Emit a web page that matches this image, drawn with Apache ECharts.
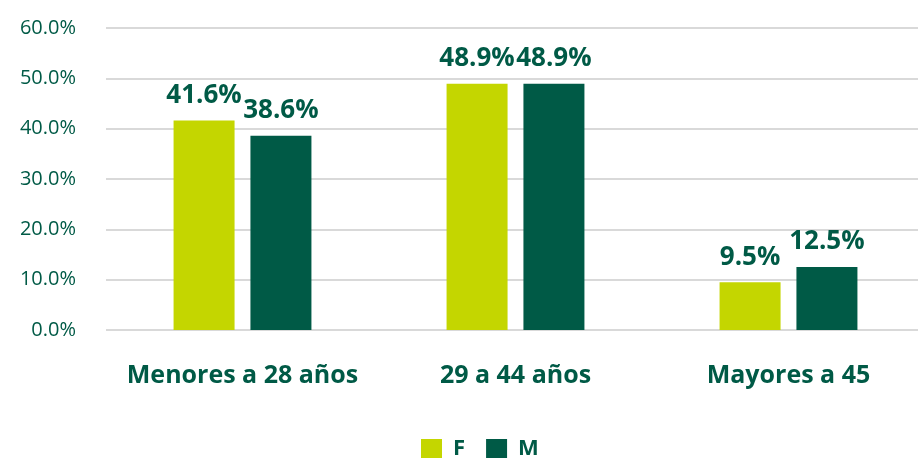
<!DOCTYPE html>
<html>
<head>
<meta charset="utf-8">
<script src="https://cdn.jsdelivr.net/npm/echarts@6/dist/echarts.min.js"></script>
<style>html,body{margin:0;padding:0;background:#fff}#chart{width:918px;height:458px}</style>
</head>
<body>
<div id="chart"></div>
<script>
var categories = ["Menores a 28 años", "29 a 44 años", "Mayores a 45"];
var valuesF = [41.6, 48.9, 9.5];
var valuesM = [38.6, 48.9, 12.5];
var seriesNames = ["F", "M"];

var green = "#005a46", lime = "#c4d600";
var chart = echarts.init(document.getElementById("chart"));
var label = {
    show: true, position: "top", distance: 12,
    color: green, fontFamily: "Open Sans", fontWeight: "bold", fontSize: 26,
    formatter: function (p) { return p.value.toFixed(1) + "%"; }
};
chart.setOption({
    animation: false,
    legend: {
        data: seriesNames, top: 438, left: 421, padding: 0,
        itemWidth: 21, itemHeight: 20, itemGap: 21, icon: "rect",
        textStyle: {color: green, fontFamily: "Open Sans", fontWeight: "bold", fontSize: 22, padding: [0, 0, 0, 6]}
    },
    grid: {left: 106, right: -7, top: 28, bottom: 128, containLabel: false, outerBoundsMode: "none"},
    xAxis: {
        type: "category", data: categories,
        axisLine: {show: false}, axisTick: {show: false},
        axisLabel: {interval: 0, margin: 33, color: green, fontFamily: "Open Sans", fontWeight: "bold", fontSize: 25}
    },
    yAxis: {
        type: "value", min: 0, max: 60, interval: 10,
        axisLabel: {margin: 30, color: green, fontFamily: "Open Sans", fontSize: 20,
            formatter: function (v) { return v.toFixed(1) + "%"; }},
        splitLine: {lineStyle: {color: "#d9d9d9", width: 2}}
    },
    series: [
        {name: seriesNames[0], type: "bar", data: valuesF, barWidth: 61, barGap: "26%",
            itemStyle: {color: lime}, label: label},
        {name: seriesNames[1], type: "bar", data: valuesM, barWidth: 61,
            itemStyle: {color: green}, label: label}
    ]
});
</script>
</body>
</html>
